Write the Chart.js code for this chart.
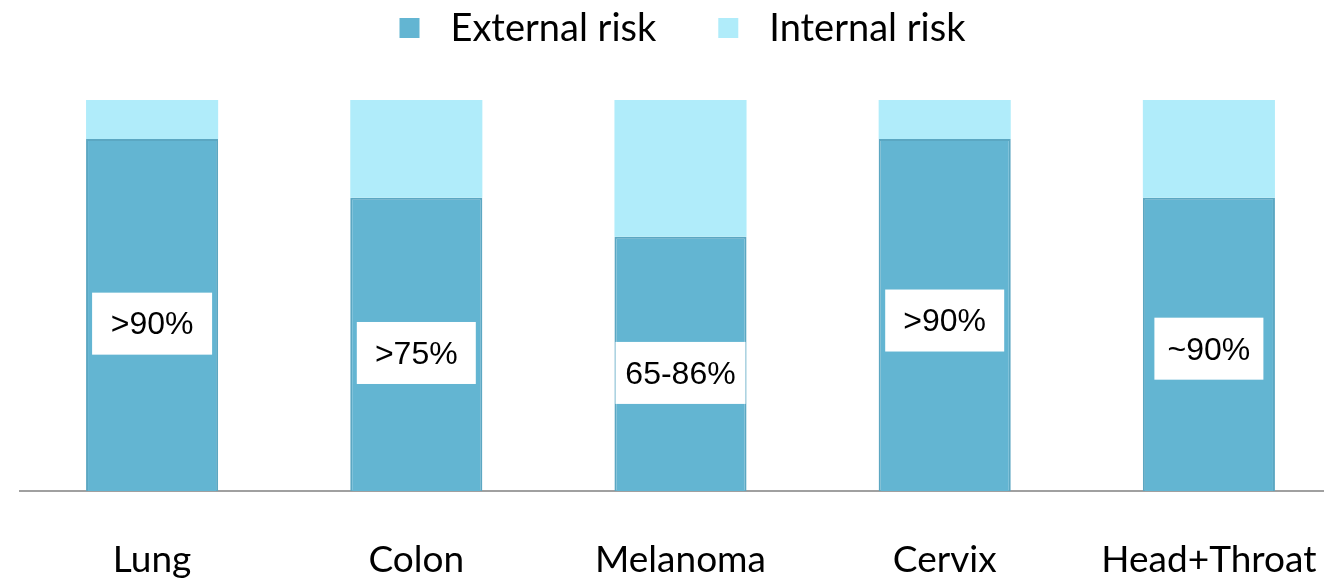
<!DOCTYPE html>
<html>
<head>
<meta charset="utf-8">
<script src="https://cdn.jsdelivr.net/npm/chart.js@4.4.0/dist/chart.umd.min.js"></script>
<style>
  html, body { margin: 0; padding: 0; background: #ffffff; overflow: hidden; }
  #c { display: block; }
</style>
</head>
<body>
<canvas id="c" width="1324" height="581"></canvas>
<script>
// Share of risk per cancer type (percent)
const categories   = ['Lung', 'Colon', 'Melanoma', 'Cervix', 'Head+Throat'];
const externalRisk = [90, 75, 65, 90, 75];
const internalRisk = [10, 25, 35, 10, 25];
const calloutText  = ['>90%', '>75%', '65-86%', '>90%', '~90%'];

// Callout placement: value-axis level of each box centre, and box width (px)
const calloutLevel = [42.8, 35.3, 30.2, 43.6, 36.4];
const calloutWidth = [120, 119, 130, 119, 109];

const EXTERNAL_COLOR = '#63b5d2';
const INTERNAL_COLOR = '#b0ecfa';
const LABEL_FONT = 'Lato';
const PLOT_RIGHT = 1341;   // category axis continues a little past the canvas edge

// Stretch the category axis so the last band runs off the right edge
const widenCategoryAxis = {
  id: 'widenCategoryAxis',
  afterLayout(chart) {
    const s = chart.scales.x;
    s.right = PLOT_RIGHT;
    s.width = PLOT_RIGHT - s.left;
    s.configure();
  }
};

// Legend drawn by hand so the spacing between swatch and text can be set freely
const topLegend = {
  id: 'topLegend',
  afterDraw(chart) {
    const ctx = chart.ctx;
    const items = chart.data.datasets.map(d => ({ text: d.label, color: d.backgroundColor }));
    const box = 20, gapText = 31, gapItem = 62, size = 38;
    ctx.save();
    ctx.font = size + 'px ' + LABEL_FONT;
    let total = 0;
    items.forEach((it, i) => {
      it.w = ctx.measureText(it.text).width;
      total += box + gapText + it.w + (i ? gapItem : 0);
    });
    const s = chart.scales.x;
    let x = (s.left + s.right) / 2 - total / 2 + 2;
    const cy = 28;
    ctx.textBaseline = 'middle';
    ctx.textAlign = 'left';
    items.forEach(it => {
      ctx.fillStyle = it.color;
      ctx.fillRect(x, cy - box / 2, box, box);
      x += box + gapText;
      ctx.fillStyle = '#000000';
      ctx.fillText(it.text, x, cy + 1);
      x += it.w + gapItem;
    });
    ctx.restore();
  }
};

// White callout boxes with the percentage text inside each bar
const callouts = {
  id: 'callouts',
  afterDatasetsDraw(chart) {
    const ctx = chart.ctx;
    const meta = chart.getDatasetMeta(0);
    const yScale = chart.scales.y;
    ctx.save();
    ctx.font = '32px "Liberation Sans", Arial, sans-serif';
    ctx.textAlign = 'center';
    ctx.textBaseline = 'middle';
    meta.data.forEach((bar, i) => {
      const cy = yScale.getPixelForValue(calloutLevel[i]);
      const w = calloutWidth[i], h = 62;
      ctx.fillStyle = '#ffffff';
      ctx.fillRect(bar.x - w / 2, cy - h / 2, w, h);
      ctx.fillStyle = '#000000';
      ctx.fillText(calloutText[i], bar.x, cy + 2);
    });
    ctx.restore();
  }
};

new Chart(document.getElementById('c'), {
  type: 'bar',
  data: {
    labels: categories,
    datasets: [
      {
        label: 'External risk',
        data: externalRisk,
        backgroundColor: EXTERNAL_COLOR,
        borderColor: '#5ba7c2',
        borderWidth: { left: 2, right: 2, top: 2, bottom: 0 },
        borderSkipped: false
      },
      {
        label: 'Internal risk',
        data: internalRisk,
        backgroundColor: INTERNAL_COLOR
      }
    ]
  },
  options: {
    responsive: false,
    maintainAspectRatio: false,
    animation: false,
    devicePixelRatio: 1,
    layout: { padding: { top: 100, left: 20, right: 0, bottom: 0 } },
    datasets: { bar: { categoryPercentage: 1, barPercentage: 0.5 } },
    plugins: {
      legend: { display: false },
      tooltip: { enabled: false }
    },
    scales: {
      x: {
        stacked: true,
        grid: { display: false, drawTicks: false },
        border: { display: true, color: '#a0a0a0', width: 2 },
        ticks: {
          color: '#000000',
          padding: 47,
          font: { family: LABEL_FONT, size: 37 }
        },
        afterFit(scale) { scale.height = 90; }
      },
      y: {
        stacked: true,
        display: false,
        min: 0,
        max: 100
      }
    }
  },
  plugins: [widenCategoryAxis, topLegend, callouts]
});
</script>
</body>
</html>
